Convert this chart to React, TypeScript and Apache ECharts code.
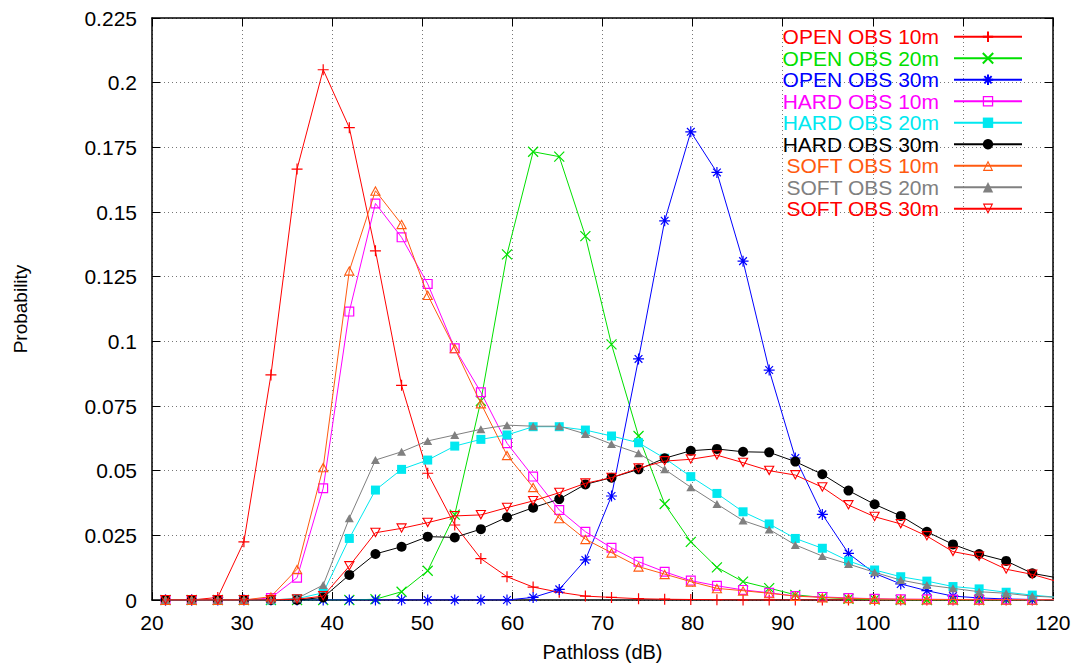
import React, { useEffect, useRef } from "react";
import * as echarts from "echarts";

const pathloss = [21.5, 24.4, 27.3, 30.2, 33.2, 36.1, 39.0, 41.9, 44.8, 47.7, 50.6, 53.6, 56.5, 59.4, 62.3, 65.2, 68.1, 71.0, 74.0, 76.9, 79.8, 82.7, 85.6, 88.5, 91.4, 94.4, 97.3, 100.2, 103.1, 106.0, 108.9, 111.8, 114.8, 117.7, 120.6];

const open10 = [0, 0, 0.001, 0.0225, 0.087, 0.1666, 0.205, 0.1826, 0.135, 0.083, 0.049, 0.029, 0.016, 0.009, 0.005, 0.003, 0.0015, 0.001, 0.0005, 0.0003, 0.0002, 0.0001, 0, 0, 0, 0, 0, 0, 0, 0, 0, 0, 0, 0, 0];
const open20 = [0, 0, 0, 0, 0, 0, 0, 0, 0.0003, 0.0032, 0.0113, 0.033, 0.077, 0.1336, 0.1733, 0.1714, 0.1407, 0.0988, 0.0634, 0.0371, 0.0225, 0.0126, 0.0071, 0.0046, 0.002, 0.001, 0.0005, 0.0002, 0, 0, 0, 0, 0, 0, 0];
const open30 = [0, 0, 0, 0, 0, 0, 0, 0, 0, 0, 0, 0, 0, 0, 0.001, 0.0041, 0.0155, 0.0402, 0.0932, 0.1466, 0.181, 0.1653, 0.131, 0.0889, 0.0549, 0.0331, 0.018, 0.0103, 0.0062, 0.0036, 0.0015, 0.0008, 0.0004, 0.0002, 0.0001];
const hard10 = [0, 0, 0, 0, 0.0008, 0.0086, 0.0432, 0.1115, 0.1533, 0.1402, 0.1222, 0.0973, 0.0803, 0.0606, 0.0477, 0.0348, 0.0264, 0.0202, 0.0148, 0.0109, 0.0075, 0.0055, 0.0039, 0.0028, 0.0015, 0.0012, 0.0008, 0.0005, 0.0003, 0.0003, 0.0002, 0.0002, 0.0002, 0.0001, 0.0001];
const hard20 = [0, 0, 0, 0, 0, 0.0005, 0.0028, 0.0238, 0.0425, 0.0505, 0.0541, 0.0595, 0.0621, 0.0638, 0.067, 0.067, 0.0657, 0.0634, 0.0608, 0.0548, 0.0477, 0.0412, 0.0341, 0.0294, 0.0238, 0.02, 0.0151, 0.0116, 0.009, 0.0073, 0.0052, 0.0043, 0.003, 0.0019, 0.001];
const hard30 = [0, 0, 0, 0, 0, 0, 0.001, 0.0097, 0.0178, 0.0206, 0.0245, 0.0242, 0.0274, 0.032, 0.0357, 0.039, 0.0447, 0.0473, 0.0505, 0.0548, 0.0577, 0.0584, 0.0573, 0.0571, 0.0535, 0.0486, 0.0423, 0.037, 0.0325, 0.0264, 0.0215, 0.0178, 0.0151, 0.0103, 0.0085];
const soft10 = [0, 0, 0, 0, 0.0013, 0.0119, 0.0513, 0.1273, 0.1582, 0.1453, 0.1179, 0.0973, 0.076, 0.056, 0.0436, 0.0316, 0.0235, 0.0183, 0.0129, 0.01, 0.0071, 0.0045, 0.0036, 0.0026, 0.0015, 0.001, 0.0007, 0.0004, 0.0003, 0.0002, 0.0002, 0.0001, 0.0001, 0.0001, 0.0001];
const soft20 = [0, 0, 0, 0, 0, 0.0006, 0.0058, 0.0316, 0.0541, 0.0573, 0.0615, 0.0638, 0.066, 0.0676, 0.0672, 0.0672, 0.0642, 0.0603, 0.0567, 0.0505, 0.0436, 0.0371, 0.0307, 0.0273, 0.0213, 0.017, 0.0139, 0.0107, 0.0077, 0.0058, 0.0045, 0.0032, 0.0026, 0.0015, 0.001];
const soft30 = [0, 0, 0, 0, 0, 0.0003, 0.0015, 0.0131, 0.026, 0.0277, 0.0299, 0.0325, 0.0329, 0.0357, 0.0383, 0.0415, 0.0451, 0.0473, 0.0509, 0.0537, 0.0544, 0.056, 0.0531, 0.05, 0.0483, 0.0436, 0.0367, 0.0322, 0.0294, 0.0247, 0.0187, 0.0168, 0.0119, 0.0099, 0.007];

const seriesNames = ["OPEN OBS 10m", "OPEN OBS 20m", "OPEN OBS 30m", "HARD OBS 10m", "HARD OBS 20m", "HARD OBS 30m", "SOFT OBS 10m", "SOFT OBS 20m", "SOFT OBS 30m"];
const seriesValues = [open10, open20, open30, hard10, hard20, hard30, soft10, soft20, soft30];
const seriesColors = ["#ff0000", "#00e000", "#0000ff", "#ff00ff", "#00e8f0", "#000000", "#ff5a10", "#808080", "#ff0000"];

const SYM_PLUS = "path://M0,5L10,5M5,0L5,10";
const SYM_CROSS = "path://M0,0L10,10M0,10L10,0";
const SYM_STAR = "path://M5,0L5,10M0,5L10,5M1.5,1.5L8.5,8.5M1.5,8.5L8.5,1.5";
const SYM_OSQUARE = "path://M0,0L10,0L10,10L0,10ZM1.2,1.2L1.2,8.8L8.8,8.8L8.8,1.2Z";
const SYM_OTRI_UP = "path://M5,0L10,9L0,9ZM5,2.1L1.7,8L8.3,8Z";
const SYM_OTRI_DOWN = "path://M0,0L10,0L5,9ZM1.7,1L5,6.9L8.3,1Z";

const symbols = [SYM_PLUS, SYM_CROSS, SYM_STAR, SYM_OSQUARE, "rect", "circle", SYM_OTRI_UP, "triangle", SYM_OTRI_DOWN];
const symbolSizes: any[] = [11, 10, 11, [10, 10], 9, 10, [11, 10], [9, 8], [11, 10]];
const strokeSymbols = [true, true, true, false, false, false, false, false, false];

const FONT = "'Liberation Sans', Arial, sans-serif";

export default function App() {
  const ref = useRef<HTMLDivElement>(null);
  useEffect(() => {
    if (!ref.current) return;
    const chart = echarts.init(ref.current, undefined, { renderer: "svg" });
    const gridLine = { show: true, lineStyle: { color: "#777", type: [1, 3] as any, width: 1 } };
    const option: any = {
      animation: false,
      backgroundColor: "#ffffff",
      grid: { left: 152, right: 28, top: 18, bottom: 71, containLabel: false },
      legend: {
        orient: "vertical",
        right: 58,
        top: 26,
        padding: 0,
        itemGap: 0,
        itemWidth: 68,
        itemHeight: 13,
        align: "right",
        data: seriesNames.map((n, i) => ({ name: n, textStyle: { color: seriesColors[i] } })),
        textStyle: {
          fontFamily: FONT,
          fontSize: 21,
          lineHeight: 21.5,
          width: 200,
          align: "right",
          padding: [0, 10, 0, 0],
        },
      },
      xAxis: [
        {
          type: "value",
          min: 20,
          max: 120,
          interval: 10,
          position: "bottom",
          axisLine: { show: true, onZero: false, lineStyle: { color: "#000", width: 1.5 } },
          axisTick: { show: true, inside: true, length: 8, lineStyle: { color: "#000" } },
          axisLabel: { color: "#000", fontFamily: FONT, fontSize: 21, margin: 12 },
          splitLine: gridLine,
          name: "Pathloss (dB)",
          nameLocation: "middle",
          nameGap: 42,
          nameTextStyle: { color: "#000", fontFamily: FONT, fontSize: 20 },
        },
        {
          type: "value",
          min: 20,
          max: 120,
          interval: 10,
          position: "top",
          axisLine: { show: true, onZero: false, lineStyle: { color: "#000", width: 1.5 } },
          axisTick: { show: true, inside: true, length: 8, lineStyle: { color: "#000" } },
          axisLabel: { show: false },
          splitLine: { show: false },
        },
      ],
      yAxis: [
        {
          type: "value",
          min: 0,
          max: 0.225,
          interval: 0.025,
          position: "left",
          axisLine: { show: true, onZero: false, lineStyle: { color: "#000", width: 1.5 } },
          axisTick: { show: true, inside: true, length: 8, lineStyle: { color: "#000" } },
          axisLabel: {
            color: "#000",
            fontFamily: FONT,
            fontSize: 21,
            margin: 15,
            formatter: (v: number) => String(parseFloat(v.toFixed(3))),
          },
          splitLine: gridLine,
          name: "Probability",
          nameLocation: "middle",
          nameRotate: 90,
          nameGap: 122,
          nameTextStyle: { color: "#000", fontFamily: FONT, fontSize: 19 },
        },
        {
          type: "value",
          min: 0,
          max: 0.225,
          interval: 0.025,
          position: "right",
          axisLine: { show: true, onZero: false, lineStyle: { color: "#000", width: 1.5 } },
          axisTick: { show: true, inside: true, length: 8, lineStyle: { color: "#000" } },
          axisLabel: { show: false },
          splitLine: { show: false },
        },
      ],
      series: seriesNames.map((name, i) => ({
        name,
        type: "line",
        xAxisIndex: 0,
        yAxisIndex: 0,
        clip: true,
        data: pathloss.map((x, j) => [x, seriesValues[i][j]]),
        symbol: symbols[i],
        symbolSize: symbolSizes[i],
        showAllSymbol: true,
        lineStyle: { color: seriesColors[i], width: 1 },
        itemStyle: strokeSymbols[i]
          ? { color: seriesColors[i], borderColor: seriesColors[i], borderWidth: 1.2 }
          : { color: seriesColors[i], borderWidth: 0 },
        emphasis: { disabled: true },
        z: 2 + i,
      })),
    };
    chart.setOption(option);
    return () => chart.dispose();
  }, []);
  return (
    <div
      ref={ref}
      style={{ position: "absolute", left: 0, top: 0, width: 1081, height: 671 }}
    />
  );
}
